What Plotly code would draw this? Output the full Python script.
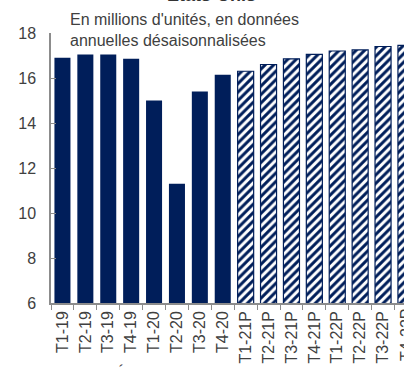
import plotly.graph_objects as go

categories = ["T1-19", "T2-19", "T3-19", "T4-19", "T1-20", "T2-20", "T3-20", "T4-20",
              "T1-21P", "T2-21P", "T3-21P", "T4-21P", "T1-22P", "T2-22P", "T3-22P", "T4-22P"]
values = [16.9, 17.05, 17.05, 16.85, 15.0, 11.3, 15.4, 16.15,
          16.3, 16.6, 16.85, 17.05, 17.2, 17.25, 17.4, 17.45]
forecast = [False] * 8 + [True] * 8
y_ticks = [6, 8, 10, 12, 14, 16, 18]

NAVY = "#001E5A"
GREY_TXT = "#404040"
AXIS = "#8C8C8C"

hist_x = [c for c, f in zip(categories, forecast) if not f]
hist_y = [v for v, f in zip(values, forecast) if not f]
fc_x = [c for c, f in zip(categories, forecast) if f]
fc_y = [v for v, f in zip(values, forecast) if f]

fig = go.Figure()
fig.add_trace(go.Bar(x=hist_x, y=hist_y, marker=dict(color=NAVY, line=dict(width=0)),
                     showlegend=False, cliponaxis=True))
fig.add_trace(go.Bar(x=fc_x, y=fc_y,
                     marker=dict(color="white", line=dict(color=NAVY, width=1.2),
                                 pattern=dict(shape="/", fgcolor=NAVY, bgcolor="white",
                                              size=6, solidity=0.5, fillmode="replace")),
                     showlegend=False, cliponaxis=True))

W, H = 404, 367
L, T, B = 51, 33, 64
plot_w = W - L
plot_h = H - T - B
cat_px = 22.9
x_end = -0.5 + plot_w / cat_px

fig.update_layout(
    width=W, height=H,
    margin=dict(l=L, r=0, t=T, b=B, pad=0, autoexpand=False),
    plot_bgcolor="white", paper_bgcolor="white",
    bargap=0.3,
    font=dict(family="Liberation Sans, Arial, sans-serif", color=GREY_TXT, size=16),
    xaxis=dict(type="category", categoryorder="array", categoryarray=categories,
               range=[-0.5, x_end], tickangle=-90, showline=True, linecolor=AXIS,
               linewidth=1.5, ticks="outside", ticklen=5, tickcolor=AXIS,
               tickson="boundaries", tickfont=dict(size=16, color=GREY_TXT),
               showgrid=False, fixedrange=True, automargin=False),
    yaxis=dict(range=[6, 18], tickvals=y_ticks, showline=True, linecolor=AXIS,
               linewidth=1.5, ticks="inside", ticklen=5, tickcolor=AXIS,
               tickfont=dict(size=16, color=GREY_TXT), ticklabelstandoff=10,
               showgrid=False, zeroline=False, fixedrange=True, automargin=False),
)

# last category label (falls partly outside the window) -> paper coordinates
last_idx = len(categories) - 1
fig.add_annotation(x=(last_idx + 0.5) / (x_end + 0.5), xref="paper", xanchor="center",
                   y=0, yref="paper", yanchor="top", yshift=-4,
                   text=categories[last_idx], textangle=-90,
                   showarrow=False, font=dict(size=16, color=GREY_TXT))

fig.add_annotation(x=(68 - L) / plot_w, xref="paper", y=1 + (T - 30.5) / plot_h, yref="paper",
                   xanchor="left", yanchor="middle", align="left", showarrow=False,
                   text="En millions d'unités, en données<br>annuelles désaisonnalisées",
                   font=dict(size=16, color=GREY_TXT))

fig.add_annotation(x=(211 - L) / plot_w, xref="paper", y=1 + (T - 6.5) / plot_h, yref="paper",
                   xanchor="center", yanchor="bottom", showarrow=False,
                   text="<b>États-Unis</b>", font=dict(size=18, color="#333333"))

fig.add_annotation(x=-L / plot_w, xref="paper", y=-(362 - (T + plot_h)) / plot_h, yref="paper",
                   xanchor="left", yanchor="top", showarrow=False,
                   text="Sources : BEA, Études économiques", font=dict(size=16, color=GREY_TXT))

fig.write_html("out.html", config=dict(displayModeBar=False),
               post_script="document.body.style.margin='0';document.body.style.overflow='hidden';")
